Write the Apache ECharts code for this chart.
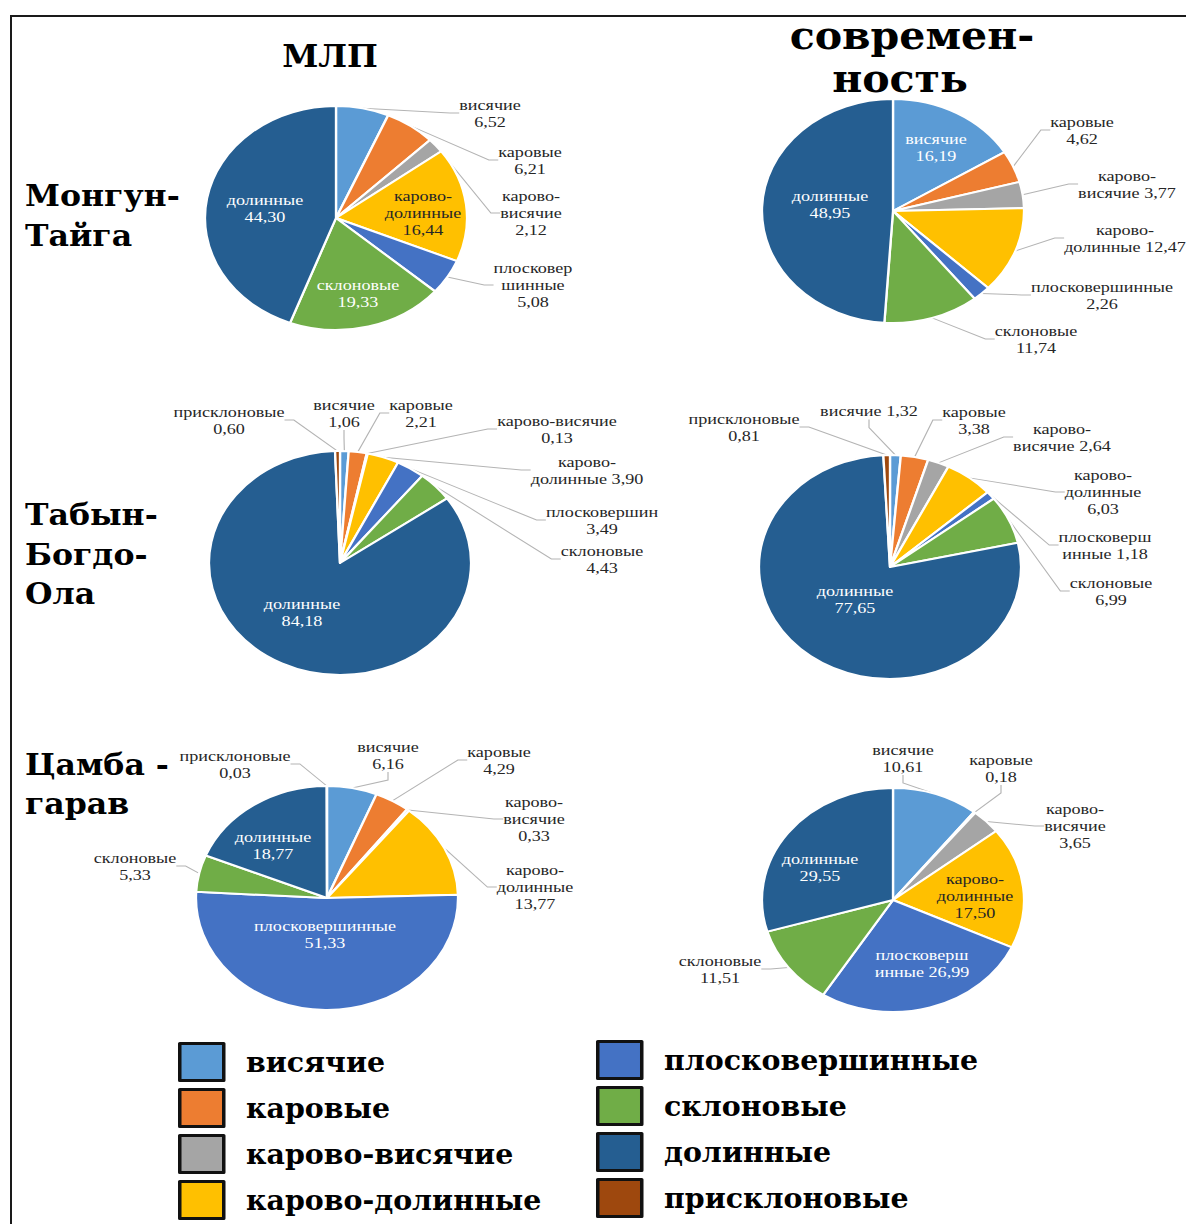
<!DOCTYPE html>
<html>
<head>
<meta charset="utf-8">
<script src="https://cdn.jsdelivr.net/npm/echarts@6/dist/echarts.min.js"></script>
<style>
  html, body { margin: 0; padding: 0; background: #fff; overflow: hidden; }
  #frame {
    position: absolute; left: 10px; top: 15px; right: -10px; bottom: -10px;
    border-left: 2px solid #1a1a1a; border-top: 2px solid #1a1a1a;
  }
  /* исходный рисунок растянут по горизонтали — круги стали эллипсами */
  #chart {
    position: absolute; left: 0; top: 0; width: 1014px; height: 1224px;
    transform: scaleX(1.17); transform-origin: 0 0;
  }
</style>
</head>
<body>
<div id="frame"></div>
<div id="chart"></div>
<script>
const S = 1.17;   // растяжение по x
const R = 112;    // радиус круга (по вертикали)

const CATEGORIES = ["висячие", "каровые", "карово-висячие", "карово-долинные",
  "плосковершинные", "склоновые", "долинные", "присклоновые"];
const COLORS = ["#5b9bd5", "#ed7d31", "#a5a5a5", "#ffc000",
  "#4472c4", "#70ad47", "#255e91", "#9e480e"];

// доли, % (null — типа нет)
const mongunMlp = [6.52, 6.21, 2.12, 16.44, 5.08, 19.33, 44.30, null];
const mongunNow = [16.19, 4.62, 3.77, 12.47, 2.26, 11.74, 48.95, null];
const tabynMlp = [1.06, 2.21, 0.13, 3.90, 3.49, 4.43, 84.18, 0.60];
const tabynNow = [1.32, 3.38, 2.64, 6.03, 1.18, 6.99, 77.65, 0.81];
const tsambaMlp = [6.16, 4.29, 0.33, 13.77, 51.33, 5.33, 18.77, 0.03];
const tsambaNow = [10.61, 0.18, 3.65, 17.50, 26.99, 11.51, 29.55, null];

// подписи: [x, y (центр текста на экране), текст, режим: out | in | dark]
const labelsMongunMlp = [
  [490, 113, "висячие\n{v}", "out"],
  [530, 160, "каровые\n{v}", "out"],
  [531, 213, "карово-\nвисячие\n{v}", "out"],
  [423, 213, "карово-\nдолинные\n{v}", "dark"],
  [533, 285, "плосковер\nшинные\n{v}", "out"],
  [358, 293, "склоновые\n{v}", "in"],
  [265, 208, "долинные\n{v}", "in"],
  null,
];
const labelsMongunNow = [
  [936, 147, "висячие\n{v}", "in"],
  [1082, 130, "каровые\n{v}", "out"],
  [1127, 184, "карово-\nвисячие {v}", "out"],
  [1125, 238, "карово-\nдолинные {v}", "out"],
  [1102, 295, "плосковершинные\n{v}", "out"],
  [1036, 339, "склоновые\n{v}", "out"],
  [830, 204, "долинные\n{v}", "in"],
  null,
];
const labelsTabynMlp = [
  [344, 413, "висячие\n{v}", "out"],
  [421, 413, "каровые\n{v}", "out"],
  [557, 429, "карово-висячие\n{v}", "out"],
  [587, 470, "карово-\nдолинные {v}", "out"],
  [602, 520, "плосковершин\n{v}", "out"],
  [602, 559, "склоновые\n{v}", "out"],
  [302, 612, "долинные\n{v}", "in"],
  [229, 420, "присклоновые\n{v}", "out"],
];
const labelsTabynNow = [
  [869, 411, "висячие {v}", "out"],
  [974, 420, "каровые\n{v}", "out"],
  [1062, 437, "карово-\nвисячие {v}", "out"],
  [1103, 492, "карово-\nдолинные\n{v}", "out"],
  [1105, 545, "плосковерш\nинные {v}", "out"],
  [1111, 591, "склоновые\n{v}", "out"],
  [855, 599, "долинные\n{v}", "in"],
  [744, 427, "присклоновые\n{v}", "out"],
];
const labelsTsambaMlp = [
  [388, 755, "висячие\n{v}", "out"],
  [499, 760, "каровые\n{v}", "out"],
  [534, 819, "карово-\nвисячие\n{v}", "out"],
  [535, 887, "карово-\nдолинные\n{v}", "out"],
  [325, 934, "плосковершинные\n{v}", "in"],
  [135, 866, "склоновые\n{v}", "out"],
  [273, 845, "долинные\n{v}", "in"],
  [235, 764, "присклоновые\n{v}", "out"],
];
const labelsTsambaNow = [
  [903, 758, "висячие\n{v}", "out"],
  [1001, 768, "каровые\n{v}", "out"],
  [1075, 826, "карово-\nвисячие\n{v}", "out"],
  [975, 896, "карово-\nдолинные\n{v}", "dark"],
  [922, 963, "плосковерш\nинные {v}", "in"],
  [720, 969, "склоновые\n{v}", "out"],
  [820, 867, "долинные\n{v}", "in"],
  null,
];

const PIES = [
  { values: mongunMlp, labels: labelsMongunMlp, center: [336, 218] },
  { values: mongunNow, labels: labelsMongunNow, center: [893, 211] },
  { values: tabynMlp, labels: labelsTabynMlp, center: [340, 563] },
  { values: tabynNow, labels: labelsTabynNow, center: [890, 567] },
  { values: tsambaMlp, labels: labelsTsambaMlp, center: [327, 898] },
  { values: tsambaNow, labels: labelsTsambaNow, center: [893, 900] },
];

const HEAD_FONT = '"DejaVu Serif Condensed", "DejaVu Serif", serif';
const LABEL_FONT = '"Liberation Serif", "Times New Roman", serif';

function fmt(v) {
  return v.toFixed(2).replace(".", ",");
}

const labelPos = []; // [seriesIndex][dataIndex] -> [x, y]

function buildPie(pie, seriesIndex) {
  const data = [];
  labelPos[seriesIndex] = [];
  pie.values.forEach((v, i) => {
    if (v == null) return;
    const [lx, ly, tpl, mode] = pie.labels[i];
    const inside = mode !== "out";
    data.push({
      name: CATEGORIES[i],
      value: v,
      itemStyle: { color: COLORS[i] },
      label: {
        position: inside ? "inside" : "outside",
        formatter: tpl.replace("{v}", fmt(v)),
        color: mode === "in" ? "#ffffff" : "#262626",
      },
      labelLine: { show: !inside },
    });
    labelPos[seriesIndex].push([lx, ly]);
  });

  return {
    type: "pie",
    center: [pie.center[0] / S, pie.center[1]],
    radius: R,
    startAngle: 90,
    clockwise: true,
    avoidLabelOverlap: false,
    animation: false,
    silent: true,
    itemStyle: { borderColor: "#ffffff", borderWidth: 2 },
    label: {
      show: true,
      fontFamily: LABEL_FONT,
      fontSize: 15.5,
      lineHeight: 17,
    },
    labelLine: {
      length: 8,
      length2: 8,
      lineStyle: { color: "#b4b4b4", width: 1 },
    },
    labelLayout: (p) => {
      const pos = labelPos[p.seriesIndex][p.dataIndex];
      return { x: pos[0] / S, y: pos[1], align: "center", verticalAlign: "middle" };
    },
    data,
  };
}

function headText(text, x, y, size, align) {
  return {
    type: "text",
    x: x / S,
    y: y,
    silent: true,
    style: {
      text,
      font: `bold ${size}px ${HEAD_FONT}`,
      lineHeight: 40,
      fill: "#000000",
      textAlign: align || "center",
      textVerticalAlign: "middle",
    },
  };
}

const legendCommon = {
  orient: "vertical",
  icon: "rect",
  padding: 0,
  height: 220,
  itemWidth: 44 / S,
  itemHeight: 37,
  itemGap: 6,
  selectedMode: false,
  itemStyle: { borderColor: "#111111", borderWidth: 3 },
  textStyle: {
    fontFamily: HEAD_FONT,
    fontWeight: "bold",
    fontSize: 27,
    lineHeight: 36,
    color: "#000000",
    padding: [0, 0, 0, 14],
  },
};

const chart = echarts.init(document.getElementById("chart"), null, { renderer: "svg" });

chart.setOption({
  backgroundColor: "transparent",
  animation: false,
  legend: [
    { ...legendCommon, left: 178 / S, top: 1042, data: CATEGORIES.slice(0, 4) },
    { ...legendCommon, left: 596 / S, top: 1040, data: CATEGORIES.slice(4) },
  ],
  graphic: [
    headText("МЛП", 330, 56, 31),
    headText("современ-", 912, 35, 39),
    headText("ность", 900, 78, 39),
    headText("Монгун-", 25, 195, 30, "left"),
    headText("Тайга", 25, 235, 30, "left"),
    headText("Табын-", 25, 514, 30, "left"),
    headText("Богдо-", 25, 554, 30, "left"),
    headText("Ола", 25, 593, 30, "left"),
    headText("Цамба -", 25, 764, 30, "left"),
    headText("гарав", 25, 803, 30, "left"),
  ],
  series: PIES.map(buildPie),
});
</script>
</body>
</html>
